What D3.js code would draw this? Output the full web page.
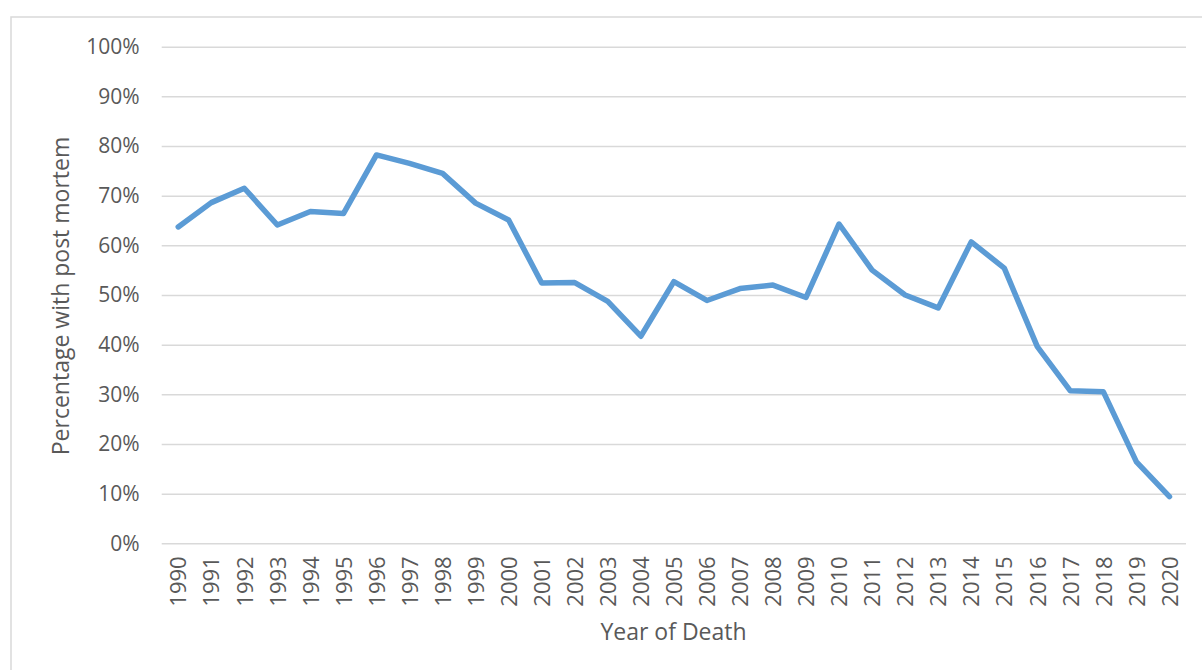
<!DOCTYPE html>
<html><head><meta charset="utf-8">
<script src="https://cdn.jsdelivr.net/npm/d3@7"></script>
<style>body{margin:0;background:#fff}svg{display:block}</style>
</head><body>
<svg id="c" width="1202" height="670"></svg>
<script>
const years = ["1990","1991","1992","1993","1994","1995","1996","1997","1998","1999","2000","2001","2002","2003","2004","2005","2006","2007","2008","2009","2010","2011","2012","2013","2014","2015","2016","2017","2018","2019","2020"];
const values = [63.7,68.6,71.5,64.1,66.8,66.4,78.2,76.5,74.5,68.5,65.1,52.4,52.5,48.7,41.7,52.7,48.9,51.3,52.0,49.5,64.3,55.0,50.0,47.4,60.7,55.4,39.6,30.7,30.5,16.4,9.4];
const yTicks = [0,10,20,30,40,50,60,70,80,90,100];
const xTitle = "Year of Death";
const yTitle = "Percentage with post mortem";

(function(){
const svg = d3.select("#c");
const font = "'Open Sans', sans-serif";
svg.append("rect").attr("x",11).attr("y",17).attr("width",1200).attr("height",700)
  .attr("fill","#fff").attr("stroke","#d9d9d9").attr("stroke-width",1.5);

const pLeft = 161.7, pRight = 1186, pTop = 46.7, pBottom = 543.3;
const x = d3.scalePoint().domain(years).range([pLeft,pRight]).padding(0.5);
const y = d3.scaleLinear().domain([0,100]).range([pBottom,pTop]);

const yAxis = svg.append("g").attr("transform",`translate(${pLeft},0)`)
  .call(d3.axisLeft(y).tickValues(yTicks).tickFormat(d=>d+"%").tickSize(-(pRight-pLeft)).tickPadding(22));
yAxis.select(".domain").remove();
yAxis.selectAll(".tick line").attr("stroke","#d9d9d9").attr("stroke-width",1.5);
yAxis.selectAll(".tick text").attr("fill","#595959").style("font-family",font).style("font-size","21px");

const xAxis = svg.append("g").attr("transform",`translate(0,${pBottom})`)
  .call(d3.axisBottom(x).tickSize(0));
xAxis.select(".domain").remove();
xAxis.selectAll(".tick text").attr("fill","#595959").style("font-family",font).style("font-size","22px")
  .attr("transform","rotate(-90)").attr("text-anchor","end").attr("x",-13).attr("y",0).attr("dy","0.35em");

const line = d3.line().x((d,i)=>x(years[i])).y(d=>y(d));
svg.append("path").datum(values).attr("d",line).attr("fill","none")
  .attr("stroke","#5b9bd5").attr("stroke-width",5.5).attr("stroke-linejoin","round").attr("stroke-linecap","round");

svg.append("text").attr("x",673.5).attr("y",640).attr("text-anchor","middle")
  .attr("fill","#595959").style("font-family",font).style("font-size","23px").text(xTitle);
svg.append("text").attr("transform","translate(69,296) rotate(-90)").attr("text-anchor","middle")
  .attr("fill","#595959").style("font-family",font).style("font-size","23px").text(yTitle);
})();
</script>
</body></html>
